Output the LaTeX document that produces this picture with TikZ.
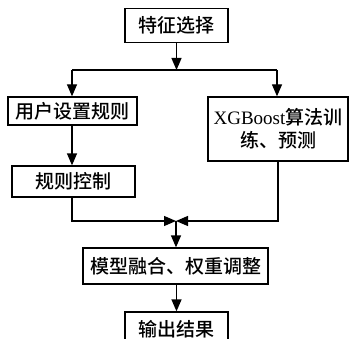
\documentclass[tikz,border=0pt]{standalone}
\usepackage{fontspec}
\setmainfont{Liberation Serif}
\newfontfamily\cjk{Noto Sans CJK SC Medium}
\usetikzlibrary{arrows.meta}
\tikzset{
  box/.style={draw, line width=1.3pt, inner sep=0pt, align=center, font=\cjk\fontsize{19}{23}\selectfont},
  conn/.style={line width=1.3pt},
  arr/.style={conn, -{Triangle[length=12pt,width=10pt]}}
}
\begin{document}
\begin{tikzpicture}[x=1pt,y=-1pt]
\useasboundingbox (0,0) rectangle (350,339);
\clip (0,0) rectangle (350,339);
\node[box, minimum width=103pt, minimum height=34pt] (b1) at (176.5,25.5) {特征选择};
\node[box, minimum width=129pt, minimum height=28pt] (b2) at (72.5,111) {用户设置规则};
\node[box, minimum width=140pt, minimum height=64pt] (b3) at (278,129) {{\rmfamily XGBoost}算法训\\练、预测};
\node[box, minimum width=123pt, minimum height=31pt] (b4) at (73.5,181.5) {规则控制};
\node[box, minimum width=185pt, minimum height=36pt] (b5) at (175.5,266) {模型融合、权重调整};
\node[box, minimum width=103pt, minimum height=34pt] (b6) at (176.5,329) {输出结果};
\coordinate (s) at (176.5,70);
\coordinate (sl) at (72,70);
\coordinate (sr) at (277,70);
\coordinate (j) at (176,221);
\draw[arr] (b1.south) -- (s);
\draw[conn] (sl) -- (sr);
\draw[arr] (sl) -- (sl|-b2.north);
\draw[arr] (sr) -- (sr|-b3.north);
\draw[arr] (b2.south-|sl) -- (sl|-b4.north);
\draw[arr] (b4.south-|sl) |- (j);
\draw[arr] (b3.south) |- (j);
\draw[arr] (j) -- (j|-b5.north);
\draw[arr] (b5.south-|b6.north) -- (b6.north);
\end{tikzpicture}
\end{document}
